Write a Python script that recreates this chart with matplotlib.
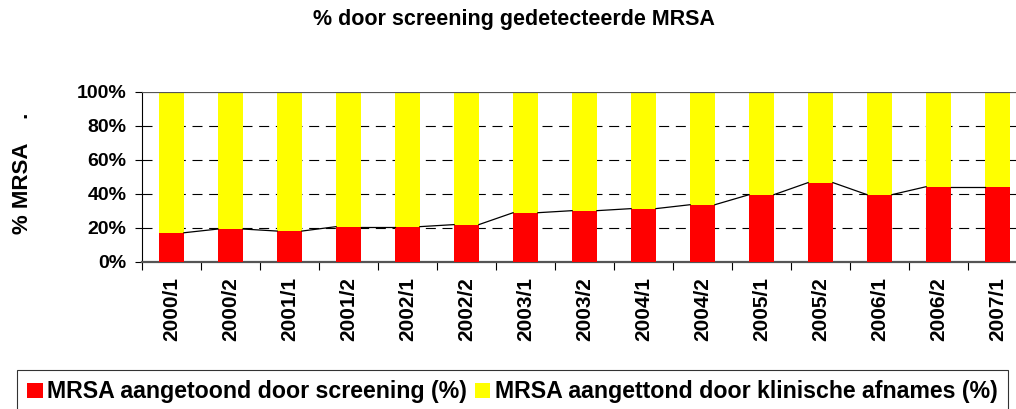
import matplotlib
matplotlib.use("Agg")
import matplotlib.pyplot as plt
from matplotlib.patches import Patch
import numpy as np

categories = ["2000/1", "2000/2", "2001/1", "2001/2", "2002/1", "2002/2", "2003/1",
              "2003/2", "2004/1", "2004/2", "2005/1", "2005/2", "2006/1", "2006/2", "2007/1"]
screening = [17.2, 19.4, 18.2, 20.8, 20.8, 22.0, 29.0, 30.2, 31.4, 33.7, 39.6, 46.7, 39.6, 44.3, 44.3]
klinisch = [100 - v for v in screening]
yticks = [0, 20, 40, 60, 80, 100]
ytick_labels = ["0%", "20%", "40%", "60%", "80%", "100%"]
title = "% door screening gedetecteerde MRSA"
ylabel = "% MRSA    ."
labels = ["MRSA aangetoond door screening (%)", "MRSA aangettond door klinische afnames (%)"]

plt.rcParams['font.family'] = ['Liberation Sans', 'DejaVu Sans']
plt.rcParams['font.weight'] = 'bold'

W, H = 1016, 409
fig = plt.figure(figsize=(W / 100, H / 100), dpi=100)
ax = fig.add_axes([142 / W, 1 - 262 / H, 885 / W, 170 / H])

x = np.arange(len(categories))
bw = 0.42
ax.bar(x, screening, width=bw, color="#FF0000", zorder=3)
ax.bar(x, klinisch, width=bw, bottom=screening, color="#FFFF00", zorder=3)

# series lines between bar tops
for i in range(len(x) - 1):
    ax.plot([x[i] + bw / 2, x[i + 1] - bw / 2], [screening[i], screening[i + 1]],
            color="black", lw=0.9, zorder=4)

ax.set_xlim(-0.5, len(categories) - 0.5)
ax.set_ylim(0, 100)
for yv in yticks[1:-1]:
    ax.axhline(yv, color="black", lw=0.8, linestyle=(0, (9, 6)), zorder=1)
ax.axhline(100, color="#555555", lw=1.6, zorder=5)

ax.set_yticks(yticks)
ax.set_yticklabels(ytick_labels, fontsize=14, fontweight="bold")
ax.tick_params(axis="y", direction="out", length=5, width=0.8, pad=6)

ax.set_xticks(x)
ax.set_xticklabels(categories, rotation=90, fontsize=15, fontweight="bold")
ax.tick_params(axis="x", which="major", length=0, pad=11)
ax.set_xticks(np.arange(len(categories) + 1) - 0.5, minor=True)
ax.tick_params(axis="x", which="minor", direction="out", length=6, width=0.8)

for s in ["top", "right"]:
    ax.spines[s].set_visible(False)
ax.spines["left"].set_linewidth(0.8)
ax.spines["bottom"].set_color("#555555")
ax.spines["bottom"].set_linewidth(1.6)

ax.set_ylabel(ylabel, fontsize=16, fontweight="bold")
ax.yaxis.set_label_coords(-(142 - 33) / 885, 0.52)

fig.text(514 / W, 1 - 19 / H, title, ha="center", va="center", fontsize=15.5, fontweight="bold")

handles = [Patch(facecolor="#FF0000"), Patch(facecolor="#FFFF00")]
leg = fig.legend(handles, labels, loc="upper left",
                 bbox_to_anchor=(17 / W, 1 - 370 / H - 0.05, 991 / W, 0.05),
                 mode="expand", ncol=2, prop={"weight": "bold", "size": 16.7},
                 frameon=True, fancybox=False, edgecolor="black", handlelength=0.65,
                 handleheight=0.65, handletextpad=0.2, columnspacing=0.6, borderpad=0.45,
                 borderaxespad=0)
leg.get_frame().set_linewidth(0.8)

fig.savefig("out.png", dpi=100)
